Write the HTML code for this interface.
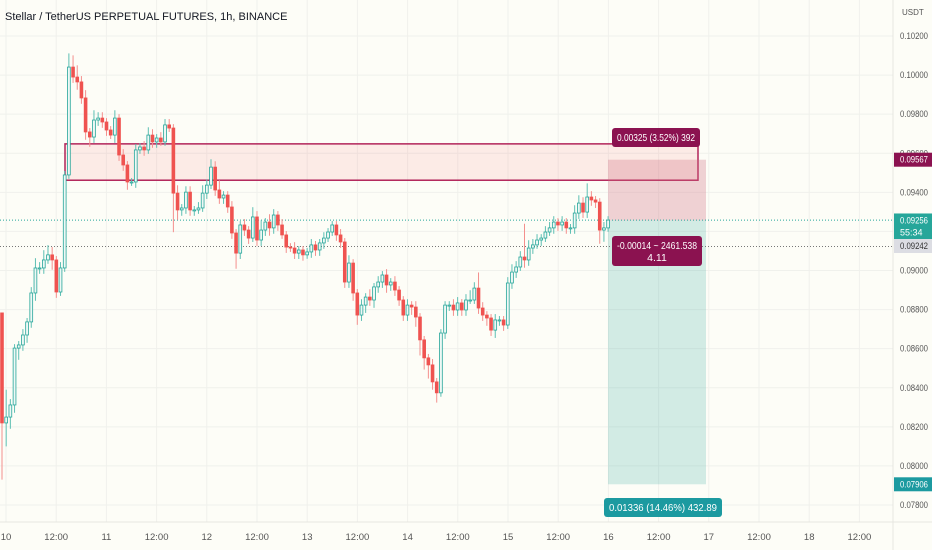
<!DOCTYPE html>
<html><head><meta charset="utf-8">
<style>
html,body{margin:0;padding:0;background:#fdfdf7;}
#wrap{position:relative;width:932px;height:550px;overflow:hidden;font-family:"Liberation Sans",sans-serif;}
svg{position:absolute;left:0;top:0;}
</style></head>
<body>
<div id="wrap">
<svg id="chart" width="932" height="550"></svg>
</div>
<script>
const closes=[0.08220,0.08250,0.08312,0.08603,0.08619,0.08670,0.08737,0.08885,0.09013,0.09013,
0.09054,0.09080,0.09054,0.08890,0.09013,0.09489,0.10041,0.09990,0.09965,0.09883,
0.09709,0.09683,0.09770,0.09780,0.09760,0.09719,0.09693,0.09780,0.09591,0.09540,
0.09453,0.09453,0.09617,0.09632,0.09617,0.09693,0.09658,0.09678,0.09658,0.09745,
0.09729,0.09396,0.09310,0.09320,0.09401,0.09310,0.09310,0.09320,0.09396,0.09437,
0.09529,0.09412,0.09371,0.09386,0.09325,0.09192,0.09089,0.09233,0.09207,0.09166,
0.09274,0.09156,0.09207,0.09248,0.09218,0.09284,0.09233,0.09182,0.09120,0.09115,
0.09089,0.09105,0.09080,0.09095,0.09131,0.09105,0.09141,0.09166,0.09197,0.09233,
0.09182,0.09146,0.08941,0.09038,0.08885,0.08772,0.08823,0.08864,0.08849,0.08916,
0.08941,0.08977,0.08926,0.08941,0.08900,0.08849,0.08772,0.08823,0.08813,0.08762,
0.08645,0.08553,0.08517,0.08430,0.08374,0.08680,0.08823,0.08823,0.08798,0.08834,
0.08798,0.08849,0.08849,0.08910,0.08808,0.08772,0.08757,0.08695,0.08747,0.08747,
0.08721,0.08936,0.08992,0.09018,0.09069,0.09054,0.09115,0.09131,0.09156,0.09166,
0.09197,0.09218,0.09248,0.09233,0.09248,0.09218,0.09218,0.09294,0.09345,0.09299,
0.09376,0.09361,0.09350,0.09207,0.09218,0.09258];
const firstOpen=0.08783;
const wickUp=[0,14,3,2,2,3,2,3,5,3, 5,5,4,2,3,2,7,6,6,3, 4,2,5,3,3,2,2,4,2,3, 2,2,3,2,3,4,3,2,3,3,
3,2,4,2,3,3,2,3,4,3, 4,3,5,2,2,3,2,2,3,2, 5,3,5,2,4,3,2,3,2,2, 3,2,2,2,3,2,2,3,2,2,
2,3,2,4,2,2,3,2,4,2, 3,2,3,2,3,2,2,3,2,3, 2,2,2,3,2,2,2,2,3,3, 2,3,5,3,8,3,2,2,3,2,
2,3,4,3,3,17,4,3,3,2, 3,3,3,2,3,2,2,4,4,3, 7,3,2,2,3,2];
const wickDn=[29,12,6,4,6,3,4,3,4,3, 3,2,5,3,2,2,2,3,4,3, 4,5,3,3,3,3,2,4,3,3, 4,2,3,2,3,2,3,3,2,2,
2,20,5,3,3,3,3,2,2,3, 2,3,3,3,3,3,8,3,3,3, 2,3,3,3,4,3,3,2,3,2, 3,3,3,2,3,3,3,3,2,2,
3,3,3,3,4,5,3,4,3,4, 3,3,4,3,3,3,3,3,4,5, 8,6,7,4,5,2,3,3,3,3, 3,3,2,2,3,3,4,3,4,3,
3,2,3,3,2,4,3,3,2,3, 2,2,3,3,3,3,3,3,3,3, 3,3,3,7,6,2];
const priceTicks=["0.10200","0.10000","0.09800","0.09600","0.09400","0.09200","0.09000","0.08800","0.08600","0.08400","0.08200","0.08000","0.07800"];
const timeLabels=["10","12:00","11","12:00","12","12:00","13","12:00","14","12:00","15","12:00","16","12:00","17","12:00","18","12:00"];
const zoneTop=0.09648, zoneBottom=0.09462;
const posTarget=0.09567, posEntry=0.09256, posStop=0.07906, grayLine=0.09123;

const NS="http://www.w3.org/2000/svg";
const svg=document.getElementById('chart');
const yS=p=>36+(0.102-p)*19542;
const xS=i=>2+i*4.18;
const tX=k=>6+k*50.2;
const FONT='Liberation Sans, sans-serif';
function mk(tag,attrs,parent){const e=document.createElementNS(NS,tag);for(const k in attrs)e.setAttribute(k,attrs[k]);(parent||svg).appendChild(e);return e;}

priceTicks.forEach(t=>{const y=yS(parseFloat(t));
 const g=mk('line',{x1:0,x2:893,y1:y,y2:y,stroke:'#f0f1ec','stroke-width':1});
 
 });
timeLabels.forEach((t,k)=>{const x=tX(k);
 const g=mk('line',{x1:x,x2:x,y1:0,y2:522,stroke:'#f0f1ec','stroke-width':1});
 
 });

const z=mk('rect',{x:65,y:yS(zoneTop),width:633,height:yS(zoneBottom)-yS(zoneTop),fill:'rgba(242,54,69,0.09)',stroke:'#b2245a','stroke-width':1.5});



const pr=mk('rect',{x:608,y:yS(posTarget),width:98,height:yS(posEntry)-yS(posTarget),fill:'rgba(210,110,130,0.3)'});


const sr=mk('rect',{x:608,y:yS(posEntry),width:98,height:yS(posStop)-yS(posEntry),fill:'rgba(38,166,154,0.2)'});



const dl=mk('line',{x1:0,x2:893,y1:yS(closes[closes.length-1]),y2:yS(closes[closes.length-1]),stroke:'#26a69a','stroke-width':1,'stroke-dasharray':'1,2'});


const gl=mk('line',{x1:0,x2:893,y1:yS(grayLine),y2:yS(grayLine),stroke:'#777','stroke-width':1,'stroke-dasharray':'1,2'});



closes.forEach((c,i)=>{
 const o=i===0?firstOpen:closes[i-1];
 const up=c>=o;
 const hi=Math.max(o,c)+wickUp[i]*0.0001, lo=Math.min(o,c)-wickDn[i]*0.0001;
 const x=xS(i);
 const g=mk('g',{});
 
 
 mk('line',{x1:x,x2:x,y1:yS(hi),y2:yS(lo),stroke:up?'#5dbfb3':'#f48f8d','stroke-width':1},g);
 const yt=yS(Math.max(o,c)), yb=yS(Math.min(o,c));
 mk('rect',{x:x-1.4,y:yt,width:2.8,height:Math.max(1,yb-yt),fill:up?'#eef8f5':'#ef5350',stroke:up?'#26a69a':'#ef5350','stroke-width':0.8},g);
});

// tool labels
function toolLabel(x,y,w,h,fill,lines,name){
 const g=mk('g',{});
 
 
 mk('rect',{x:x,y:y,width:w,height:h,rx:3,fill:fill},g);
 lines.forEach((s,j)=>{
  const t=mk('text',{x:x+w/2,y:y+13+j*12,'font-size':'10.5',fill:'#fff','text-anchor':'middle','font-family':FONT},g);
  t.textContent=s;
  if(s.length>6){t.setAttribute('textLength',w-10);t.setAttribute('lengthAdjust','spacingAndGlyphs');}
 });
}
toolLabel(612,128,88,19,'#8b1250',['0.00325 (3.52%) 392'],'target-label');
toolLabel(612,236,90,30,'#8b1250',['-0.00014 ~ 2461.538','4.11'],'entry-label');
toolLabel(604,498,118,19,'#1c9aa0',['0.01336 (14.46%) 432.89'],'stop-label');

mk('rect',{x:894,y:0,width:38,height:550,fill:'#fdfdf7'});
mk('line',{x1:893,x2:893,y1:0,y2:550,stroke:'#e6e6e0','stroke-width':1});
mk('line',{x1:0,x2:932,y1:522,y2:522,stroke:'#e6e6e0','stroke-width':1});
priceTicks.forEach(t=>{
 const e=mk('text',{x:900,y:yS(parseFloat(t))+3,'font-size':'9',fill:'#555','font-family':FONT,textLength:28,lengthAdjust:'spacingAndGlyphs'});
 e.textContent=t;
 
 });
timeLabels.forEach((t,k)=>{
 const e=mk('text',{x:tX(k),y:540,'font-size':'9.5',fill:'#555','text-anchor':'middle','font-family':FONT});
 e.textContent=t;
 
 });
const u=mk('text',{x:902,y:15,'font-size':'8',fill:'#555','font-family':FONT});u.textContent='USDT';



function badge(y,h,fill,txt,col,name){
 const g=mk('g',{});
 
 
 mk('rect',{x:894,y:y,width:38,height:h,fill:fill},g);
 txt.forEach((s,j)=>{const t=mk('text',{x:900,y:y+10+j*12,'font-size':'9',fill:col,'font-family':FONT},g);t.textContent=s;
  if(s.length>5){t.setAttribute('textLength',28);t.setAttribute('lengthAdjust','spacingAndGlyphs');}});
}
badge(yS(posTarget)-7,14,'#8b1250',['0.09567'],'#fff','target-price-badge');
badge(yS(posEntry)-7,26,'#26a69a',['0.09256','55:34'],'#fff','last-price-badge');
badge(239,14,'#dcdde3',['0.09242'],'#333','prev-close-badge');
badge(yS(posStop)-7,14,'#1c9aa0',['0.07906'],'#fff','stop-price-badge');

const title=mk('text',{x:5,y:20,'font-size':'11',fill:'#131722','font-family':FONT});
title.textContent='Stellar / TetherUS PERPETUAL FUTURES, 1h, BINANCE';


</script>
</body></html>
